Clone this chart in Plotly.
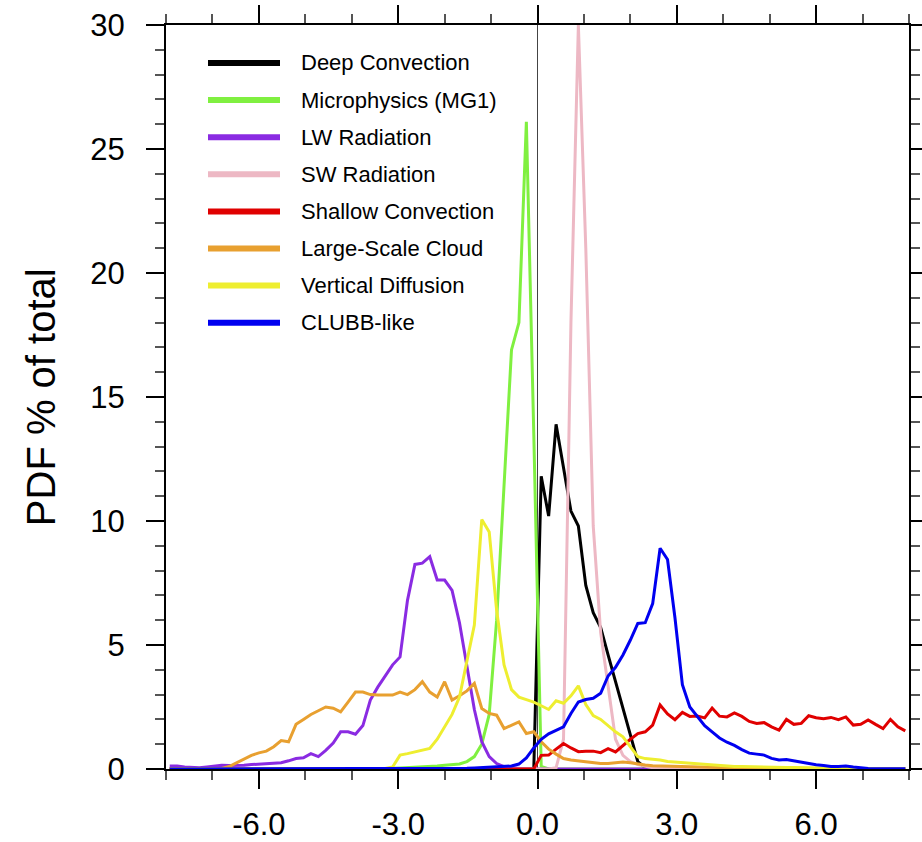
import numpy as np
import plotly.graph_objects as go

# Bin centres: 100 bins of width 0.16 spanning [-8, 8]
BIN_WIDTH = 0.16
bin_centres = np.round(-8 + BIN_WIDTH * (np.arange(100) + 0.5), 2)

# PDF (% of total) per bin, ten bins per row (row k starts at -7.92 + 1.6 k)
deep_convection = [
    0, 0, 0, 0, 0, 0, 0, 0, 0, 0,
    0, 0, 0, 0, 0, 0, 0, 0, 0, 0,
    0, 0, 0, 0, 0, 0, 0, 0, 0, 0,
    0, 0, 0, 0, 0, 0, 0, 0, 0, 0,
    0, 0, 0, 0, 0, 0, 0, 0, 0, 0,
    11.8, 10.2, 13.9, 12.2, 10.4, 9.8, 7.4, 6.3, 5.7, 4.6,
    3.5, 2.4, 1.35, 0.3, 0.05, 0, 0, 0, 0, 0,
    0, 0, 0, 0, 0, 0, 0, 0, 0, 0,
    0, 0, 0, 0, 0, 0, 0, 0, 0, 0,
    0, 0, 0, 0, 0, 0, 0, 0, 0, 0,
]

microphysics = [
    0, 0, 0, 0, 0, 0, 0, 0, 0, 0,
    0, 0, 0, 0, 0, 0, 0, 0, 0, 0,
    0, 0, 0, 0, 0, 0, 0.01, 0.01, 0.02, 0.02,
    0.03, 0.04, 0.05, 0.06, 0.08, 0.1, 0.12, 0.15, 0.17, 0.2,
    0.3, 0.5, 1.0, 2.2, 6.0, 11.5, 16.9, 18.0, 26.1, 13.5,
    0.1, 0, 0, 0, 0, 0, 0, 0, 0, 0,
    0, 0, 0, 0, 0, 0, 0, 0, 0, 0,
    0, 0, 0, 0, 0, 0, 0, 0, 0, 0,
    0, 0, 0, 0, 0, 0, 0, 0, 0, 0,
    0, 0, 0, 0, 0, 0, 0, 0, 0, 0,
]

lw_radiation = [
    0.12, 0.12, 0.08, 0.06, 0.05, 0.08, 0.12, 0.15, 0.14, 0.13,
    0.15, 0.18, 0.2, 0.22, 0.22, 0.25, 0.33, 0.42, 0.45, 0.62,
    0.5, 0.75, 1.05, 1.5, 1.5, 1.4, 1.75, 2.78, 3.3, 3.75,
    4.2, 4.52, 6.8, 8.25, 8.3, 8.56, 7.62, 7.62, 7.2, 5.9,
    4.2, 2.4, 1.1, 0.5, 0.22, 0.1, 0.05, 0.02, 0, 0,
    0, 0, 0, 0, 0, 0, 0, 0, 0, 0,
    0, 0, 0, 0, 0, 0, 0, 0, 0, 0,
    0, 0, 0, 0, 0, 0, 0, 0, 0, 0,
    0, 0, 0, 0, 0, 0, 0, 0, 0, 0,
    0, 0, 0, 0, 0, 0, 0, 0, 0, 0,
]

sw_radiation = [
    0, 0, 0, 0, 0, 0, 0, 0, 0, 0,
    0, 0, 0, 0, 0, 0, 0, 0, 0, 0,
    0, 0, 0, 0, 0, 0, 0, 0, 0, 0,
    0, 0, 0, 0, 0, 0, 0, 0, 0, 0,
    0, 0, 0, 0, 0, 0, 0, 0, 0, 0,
    0, 0, 0.05, 1.2, 18.0, 30.0, 21.0, 9.8, 5.5, 3.3,
    1.2, 0.55, 0.3, 0.18, 0.1, 0.05, 0.03, 0.02, 0, 0,
    0, 0, 0, 0, 0, 0, 0, 0, 0, 0,
    0, 0, 0, 0, 0, 0, 0, 0, 0, 0,
    0, 0, 0, 0, 0, 0, 0, 0, 0, 0,
]

shallow_convection = [
    0, 0, 0, 0, 0, 0, 0, 0, 0, 0,
    0, 0, 0, 0, 0, 0, 0, 0, 0, 0,
    0, 0, 0, 0, 0, 0, 0, 0, 0, 0,
    0, 0, 0, 0, 0, 0, 0, 0, 0, 0,
    0, 0, 0, 0, 0, 0, 0, 0, 0, 0,
    0.55, 0.56, 0.8, 1.03, 0.85, 0.7, 0.72, 0.72, 0.66, 0.82,
    0.69, 0.95, 1.2, 1.43, 1.5, 1.77, 2.58, 2.22, 1.99, 2.28,
    2.12, 2.14, 2.06, 2.46, 2.13, 2.1, 2.26, 2.12, 1.92, 1.84,
    1.87, 1.7, 1.57, 2.0, 1.8, 1.84, 2.15, 2.07, 2.03, 2.08,
    1.99, 2.1, 1.77, 1.8, 1.98, 1.8, 1.63, 2.0, 1.7, 1.54,
]

large_scale_cloud = [
    0, 0, 0, 0, 0, 0, 0, 0.02, 0.1, 0.25,
    0.4, 0.55, 0.65, 0.72, 0.9, 1.15, 1.1, 1.8, 2.0, 2.2,
    2.35, 2.5, 2.45, 2.3, 2.7, 3.1, 3.1, 3.0, 2.98, 2.98,
    2.98, 3.1, 3.0, 3.2, 3.52, 3.1, 2.9, 3.52, 2.78, 2.95,
    3.15, 3.45, 2.44, 2.24, 2.17, 1.63, 1.77, 1.9, 1.43, 1.5,
    1.1, 0.8, 0.6, 0.42, 0.36, 0.33, 0.3, 0.25, 0.22, 0.22,
    0.25, 0.28, 0.25, 0.22, 0.16, 0.13, 0.12, 0.1, 0.1, 0.09,
    0.08, 0.08, 0.07, 0.07, 0.06, 0.06, 0.05, 0.05, 0.05, 0.05,
    0.04, 0.04, 0.04, 0.04, 0.04, 0.03, 0.03, 0.03, 0.03, 0.02,
    0.02, 0.01, 0, 0, 0, 0, 0, 0, 0, 0,
]

vertical_diffusion = [
    0, 0, 0, 0, 0, 0, 0, 0, 0, 0,
    0, 0, 0, 0, 0, 0, 0, 0, 0, 0,
    0, 0, 0, 0, 0, 0, 0, 0, 0, 0.02,
    0.08, 0.56, 0.62, 0.69, 0.75, 0.83, 1.2, 1.7, 2.2, 2.9,
    4.4, 5.8, 10.06, 9.56, 6.4, 4.2, 3.2, 2.9, 2.8, 2.7,
    2.55, 2.4, 2.75, 2.65, 2.95, 3.35, 2.6, 2.15, 2.0, 1.75,
    1.5, 1.3, 0.9, 0.5, 0.42, 0.4, 0.36, 0.3, 0.28, 0.25,
    0.22, 0.2, 0.17, 0.15, 0.13, 0.12, 0.1, 0.1, 0.09, 0.08,
    0.08, 0.07, 0.07, 0.06, 0.06, 0.05, 0.05, 0.04, 0.04, 0.03,
    0.03, 0.03, 0.02, 0.02, 0.01, 0, 0, 0, 0, 0,
]

clubb_like = [
    0, 0, 0, 0, 0, 0, 0, 0, 0, 0,
    0, 0, 0, 0, 0, 0, 0, 0, 0, 0,
    0, 0, 0, 0, 0, 0, 0, 0, 0, 0,
    0.01, 0.01, 0.01, 0.01, 0.02, 0.02, 0.02, 0.02, 0.03, 0.03,
    0.03, 0.04, 0.05, 0.06, 0.07, 0.08, 0.12, 0.2, 0.45, 0.85,
    1.2, 1.42, 1.57, 1.7, 2.24, 2.7, 2.8, 2.85, 3.05, 3.75,
    4.1, 4.6, 5.2, 5.87, 5.9, 6.67, 8.9, 8.45, 6.1, 3.4,
    2.5, 2.1, 1.75, 1.5, 1.25, 1.08, 0.95, 0.78, 0.64, 0.6,
    0.56, 0.43, 0.36, 0.38, 0.33, 0.26, 0.2, 0.17, 0.14, 0.1,
    0.1, 0.12, 0.08, 0.04, 0.02, 0.01, 0.01, 0.01, 0.01, 0.01,
]

series_names = [
    "Deep Convection", "Microphysics (MG1)", "LW Radiation", "SW Radiation",
    "Shallow Convection", "Large-Scale Cloud", "Vertical Diffusion", "CLUBB-like",
]
series_values = [
    deep_convection, microphysics, lw_radiation, sw_radiation,
    shallow_convection, large_scale_cloud, vertical_diffusion, clubb_like,
]
series_colors = [
    "#000000", "#80F040", "#8A2BE2", "#EDB8C4",
    "#E00000", "#E8A030", "#EEEE30", "#0000F0",
]

x_tick_vals = [-6, -3, 0, 3, 6]
x_tick_text = ["-6.0", "-3.0", "0.0", "3.0", "6.0"]
y_tick_vals = [0, 5, 10, 15, 20, 25, 30]

FONT = "Liberation Sans, Arial, Helvetica, sans-serif"

fig = go.Figure()
for name, vals, col in zip(series_names, series_values, series_colors):
    fig.add_trace(go.Scatter(
        x=bin_centres, y=vals, mode="lines", name=name,
        line=dict(color=col, width=3), showlegend=False, hoverinfo="skip",
    ))

axis_common = dict(
    showline=True, linecolor="black", linewidth=2, mirror="ticks",
    ticks="outside", ticklen=18, tickwidth=2, tickcolor="black",
    showgrid=False, zeroline=False, automargin=False,
    tickfont=dict(family=FONT, size=31, color="black"),
)
minor_ticks = dict(dtick=1, tick0=0, ticks="outside", ticklen=9, tickwidth=1.5,
                   tickcolor="#555555", showgrid=False)

fig.update_layout(
    width=922, height=842,
    margin=dict(l=166, r=13, t=25, b=73),
    paper_bgcolor="white", plot_bgcolor="white",
    font=dict(family=FONT, color="black"),
    xaxis=dict(
        range=[-8, 8], tickmode="array", tickvals=x_tick_vals, ticktext=x_tick_text,
        minor=minor_ticks, ticklabelstandoff=9, **axis_common,
    ),
    yaxis=dict(
        range=[0, 30], tickmode="array", tickvals=y_tick_vals,
        minor=minor_ticks, ticklabelstandoff=15, **axis_common,
    ),
)

# Zero reference line
fig.add_shape(type="line", xref="x", yref="paper", x0=0, x1=0, y0=0, y1=1,
              line=dict(color="#444444", width=1), layer="below")

# Y-axis title
fig.add_annotation(text="PDF % of total", xref="paper", yref="paper",
                   x=-0.168, y=0.5, xanchor="center", yanchor="middle",
                   textangle=-90, showarrow=False,
                   font=dict(family=FONT, size=40, color="black"))

# Legend drawn inside the plot: thick line sample plus label per series
plot_h = 842 - 25 - 73
for i, (name, col) in enumerate(zip(series_names, series_colors)):
    ypix = 63 + 37.1 * i
    yp = (769 - ypix) / plot_h
    fig.add_shape(type="line", xref="paper", yref="paper",
                  x0=(208 - 166) / 743, x1=(280 - 166) / 743, y0=yp, y1=yp,
                  line=dict(color=col, width=6))
    fig.add_annotation(text=name, xref="paper", yref="paper",
                       x=(299 - 166) / 743, y=yp, xanchor="left", yanchor="middle",
                       showarrow=False, font=dict(family=FONT, size=22, color="black"))

fig.write_html("out.html")
